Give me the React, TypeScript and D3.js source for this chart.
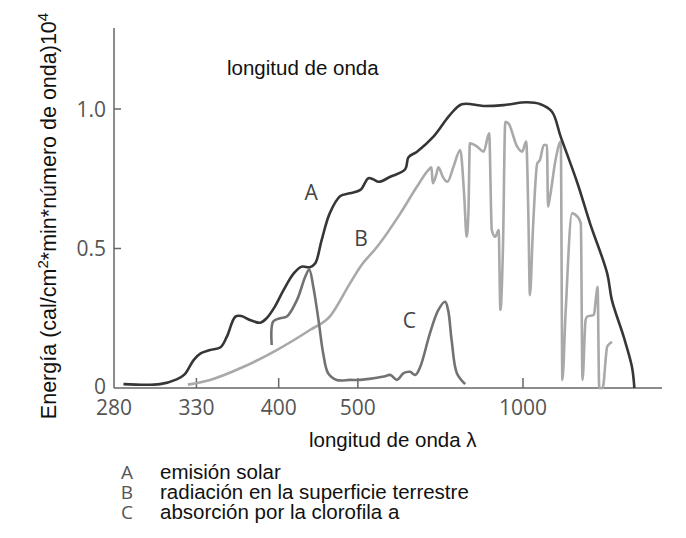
import { useEffect, useRef } from "react";
import * as d3 from "d3";

// curve A: solar emission
const waveA = [285, 306, 316.5, 322, 328, 333, 340, 348, 353, 360, 365, 372.5, 382, 388, 396, 405, 416, 425, 434.5, 441, 449, 459.5, 474, 488, 504, 517, 525, 535, 556, 586, 593, 612, 652, 697, 734, 811, 898, 1023, 1113, 1201, 1277, 1453, 1618, 1910, 2008, 2302, 2562, 2649];
const energyA = [0.014, 0.014, 0.031, 0.05, 0.1, 0.124, 0.136, 0.146, 0.184, 0.256, 0.258, 0.244, 0.234, 0.25, 0.291, 0.351, 0.411, 0.435, 0.433, 0.447, 0.53, 0.626, 0.688, 0.698, 0.71, 0.752, 0.748, 0.739, 0.757, 0.784, 0.827, 0.847, 0.901, 0.978, 1.017, 1.011, 1.014, 1.024, 1.017, 0.99, 0.901, 0.734, 0.59, 0.411, 0.315, 0.184, 0.076, 0];

// curve B: radiation at the earth's surface
const waveB = [324, 340, 367, 398, 434.5, 459.5, 488, 504, 532, 576, 612, 639, 647, 650, 659, 665, 677, 690, 708, 729, 742, 750, 756, 761, 787, 812, 834, 845, 860, 875, 883, 895, 906, 921, 967, 995, 1019, 1032, 1042, 1061, 1090, 1109, 1137, 1161, 1169, 1185, 1231, 1278, 1293, 1324, 1391, 1453, 1494, 1515, 1556, 1577, 1676, 1705, 1735, 1763, 1823, 1910, 1968, 2008];
const energyB = [0.012, 0.029, 0.076, 0.136, 0.208, 0.256, 0.375, 0.435, 0.506, 0.626, 0.722, 0.781, 0.791, 0.734, 0.763, 0.791, 0.757, 0.739, 0.793, 0.853, 0.686, 0.542, 0.626, 0.877, 0.865, 0.847, 0.913, 0.566, 0.542, 0.566, 0.28, 0.506, 0.954, 0.949, 0.865, 0.847, 0.883, 0.626, 0.333, 0.566, 0.805, 0.817, 0.871, 0.871, 0.65, 0.686, 0.817, 0.883, 0.029, 0.268, 0.626, 0.614, 0.59, 0.029, 0.244, 0.256, 0.262, 0.315, 0.363, 0, 0, 0.148, 0.16, 0.166];

// curve C: chlorophyll a absorption
const waveC = [393, 394.5, 401.5, 408.5, 419.5, 429, 433.7, 438.6, 445, 451, 457.4, 469, 488, 504, 544, 556, 569, 582.6, 596, 608, 619.5, 643, 665, 683.5, 692, 702.4, 718.4, 745];
const energyC = [0.154, 0.238, 0.25, 0.256, 0.315, 0.399, 0.425, 0.363, 0.244, 0.124, 0.053, 0.029, 0.029, 0.029, 0.041, 0.047, 0.029, 0.053, 0.058, 0.047, 0.076, 0.196, 0.28, 0.309, 0.28, 0.172, 0.053, 0.014];

const xTicks = [280, 330, 400, 500, 1000];
const yTicks = [0, 0.5, 1.0];
const yTickLabels = ["0", "0.5", "1.0"];
const legendKeys = ["A", "B", "C"];
const legendTexts = ["emisión solar", "radiación en la superficie terrestre", "absorción por la clorofila a"];

const App = () => {
    const chartRef = useRef(null);

    useEffect(() => {
        const svg = d3.select(chartRef.current);
        svg.selectAll("*").remove();

        const width = 686;
        const height = 538;
        const sansArial = "'Liberation Sans', Arial, sans-serif";
        const sansGray = "'Open Sans', 'Noto Sans', sans-serif";

        svg.attr("width", width).attr("height", height);
        svg.append("rect").attr("width", width).attr("height", height).attr("fill", "#fff");

        // wavenumber-like axis: power scale with negative exponent
        const x = d3.scalePow().exponent(-0.9).domain([280, 1000]).range([114, 523]);
        const y = d3.scaleLinear().domain([0, 1]).range([388, 109]);

        const axisColor = "#666";

        // y axis line
        svg.append("line")
            .attr("x1", x(280)).attr("x2", x(280))
            .attr("y1", y(1.29)).attr("y2", y(0))
            .attr("stroke", axisColor).attr("stroke-width", 1.5);
        // x axis line
        svg.append("line")
            .attr("x1", x(280)).attr("x2", 662)
            .attr("y1", y(0)).attr("y2", y(0))
            .attr("stroke", axisColor).attr("stroke-width", 1.5);

        // y ticks (inward)
        svg.selectAll("line.ytick")
            .data(yTicks.slice(1))
            .enter()
            .append("line")
            .attr("x1", x(280)).attr("x2", x(280) + 7)
            .attr("y1", (d) => y(d)).attr("y2", (d) => y(d))
            .attr("stroke", axisColor).attr("stroke-width", 1.5);

        svg.selectAll("text.ytick")
            .data(yTicks)
            .enter()
            .append("text")
            .attr("x", 106)
            .attr("y", (d) => (d === 0 ? y(d) - 2 : y(d)))
            .attr("dy", "0.36em")
            .attr("text-anchor", "end")
            .attr("font-family", sansGray)
            .attr("font-size", 21)
            .attr("fill", "#555")
            .text((d, i) => yTickLabels[i]);

        // x ticks (inward)
        svg.selectAll("line.xtick")
            .data(xTicks.slice(1))
            .enter()
            .append("line")
            .attr("x1", (d) => x(d)).attr("x2", (d) => x(d))
            .attr("y1", y(0)).attr("y2", y(0) - 10)
            .attr("stroke", axisColor).attr("stroke-width", 1.5);

        svg.selectAll("text.xtick")
            .data(xTicks)
            .enter()
            .append("text")
            .attr("x", (d) => x(d))
            .attr("y", 415)
            .attr("text-anchor", "middle")
            .attr("font-family", sansGray)
            .attr("font-size", 21)
            .attr("fill", "#555")
            .text((d) => d);

        // curves
        const series = [
            { wave: waveB, energy: energyB, color: "#a9a9a9", curve: d3.curveMonotoneX },
            { wave: waveC, energy: energyC, color: "#727272", curve: d3.curveCatmullRom },
            { wave: waveA, energy: energyA, color: "#363636", curve: d3.curveCatmullRom },
        ];
        series.forEach((s) => {
            const line = d3.line()
                .x((d) => x(d))
                .y((d, i) => y(s.energy[i]))
                .curve(s.curve);
            svg.append("path")
                .attr("d", line(s.wave))
                .attr("fill", "none")
                .attr("stroke", s.color)
                .attr("stroke-width", 2.6)
                .attr("stroke-linejoin", "round");
        });

        // curve labels
        const curveLabels = [
            { t: "A", wave: 436, e: 0.675 },
            { t: "B", wave: 505, e: 0.51 },
            { t: "C", wave: 595, e: 0.215 },
        ];
        svg.selectAll("text.clabel")
            .data(curveLabels)
            .enter()
            .append("text")
            .attr("x", (d) => x(d.wave))
            .attr("y", (d) => y(d.e))
            .attr("text-anchor", "middle")
            .attr("font-family", sansGray)
            .attr("font-size", 21)
            .attr("fill", "#444")
            .text((d) => d.t);

        // y axis title
        const yt = svg.append("text")
            .attr("transform", "translate(56,216) rotate(-90)")
            .attr("text-anchor", "middle")
            .attr("font-family", sansArial)
            .attr("font-size", 21.5)
            .attr("fill", "#111");
        yt.append("tspan").text("Energía (cal/cm");
        yt.append("tspan").attr("baseline-shift", "super").attr("font-size", 15).text("2");
        yt.append("tspan").text("*min*número de onda)10");
        yt.append("tspan").attr("baseline-shift", "super").attr("font-size", 15).text("4");

        // top title
        svg.append("text")
            .attr("x", 227)
            .attr("y", 75)
            .attr("font-family", sansArial)
            .attr("font-size", 20.5)
            .attr("fill", "#111")
            .text("longitud de onda");

        // x axis title
        svg.append("text")
            .attr("x", 309)
            .attr("y", 447)
            .attr("font-family", sansArial)
            .attr("font-size", 20.5)
            .attr("fill", "#111")
            .text("longitud de onda λ");

        // legend
        const legend = svg.selectAll("g.legend")
            .data(legendTexts)
            .enter()
            .append("g")
            .attr("transform", (d, i) => `translate(0,${479 + i * 20.2})`);
        legend.append("text")
            .attr("x", 127)
            .attr("text-anchor", "middle")
            .attr("font-family", sansGray)
            .attr("font-size", 19)
            .attr("fill", "#555")
            .text((d, i) => legendKeys[i]);
        legend.append("text")
            .attr("x", 160)
            .attr("font-family", sansArial)
            .attr("font-size", 20.5)
            .attr("fill", "#111")
            .text((d) => d);
    }, []);

    return (
        <div style={{ position: "absolute", left: 0, top: 0 }}>
            <svg ref={chartRef}></svg>
        </div>
    );
};

export default App;
